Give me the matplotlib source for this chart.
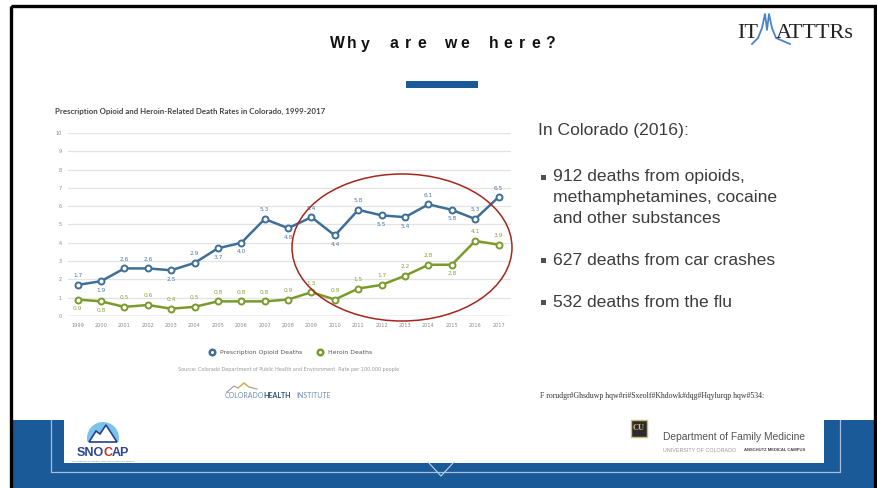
import matplotlib
matplotlib.use("Agg")
import matplotlib.pyplot as plt
from matplotlib.patches import Rectangle, Ellipse, Polygon, Circle
from matplotlib.lines import Line2D

# ---- data ----
years = list(range(1999, 2018))
opioid_rates = [1.7, 1.9, 2.6, 2.6, 2.5, 2.9, 3.7, 4.0, 5.3, 4.8,
                5.4, 4.4, 5.8, 5.5, 5.4, 6.1, 5.8, 5.3, 6.5]
heroin_rates = [0.9, 0.8, 0.5, 0.6, 0.4, 0.5, 0.8, 0.8, 0.8, 0.9,
                1.3, 0.9, 1.5, 1.7, 2.2, 2.8, 2.8, 4.1, 3.9]
y_ticks = list(range(0, 11))

series_names = ["Prescription Opioid Deaths", "Heroin Deaths"]
chart_title = "Prescription Opioid and Heroin-Related Death Rates in Colorado, 1999-2017"
source_note = "Source: Colorado Department of Public Health and Environment. Rate per 100,000 people"

slide_title = "Why are we here?"
intro_line = "In Colorado (2016):"
bullets = [
    ["912 deaths from opioids,", "methamphetamines, cocaine", "and other substances"],
    ["627 deaths from car crashes"],
    ["532 deaths from the flu"],
]
citation = "F rorudgr#Ghsduwp hqw#ri#Sxeolf#Khdowk#dqg#Hqylurqp hqw#534:"

# ---- colours ----
BLUE = "#3f6e96"
GREEN = "#7a9b2c"
SLIDE_BLUE = "#1a5a98"
TEXT = "#3c3c3c"

W, H = 878, 488
fig = plt.figure(figsize=(W / 100, H / 100), dpi=100)
fig.patch.set_facecolor("white")


def fx(px):
    return px / W


def fy(py):
    return 1 - py / H


# background layer in pixel coordinates
bg = fig.add_axes([0, 0, 1, 1])
bg.set_xlim(0, W)
bg.set_ylim(H, 0)
bg.axis("off")

# slide frame
bg.add_patch(Rectangle((11.5, 5.5), 864, 500, fill=False, ec="black", lw=2.4, zorder=5))

# bottom band and logo strip
bg.add_patch(Rectangle((13, 420), 862, 70, fc=SLIDE_BLUE, ec="none", zorder=1))
bg.add_patch(Rectangle((64, 418), 760, 45, fc="white", ec="none", zorder=2))
bg.plot([51, 51, 840, 840], [420, 472, 472, 420], color="#a9bedb", lw=0.9, zorder=3)
bg.plot([428, 441, 454], [462, 476, 462], color="#c4d2e6", lw=0.8, zorder=3)

# title and accent bar
for i, ch in enumerate(slide_title):
    bg.text(337 + i * 14.2, 44, ch, ha="center", va="center", fontsize=11.3,
            fontweight="bold", color="#111111", family="Liberation Sans")
bg.add_patch(Rectangle((406, 81), 72, 7, fc=SLIDE_BLUE, ec="none"))

# IT MATTTRs logo
bg.text(737, 38, "IT", fontsize=16, family="Liberation Serif", color="#222222", va="baseline")
bg.plot([752, 758, 762, 765, 767, 769, 772, 776, 790],
        [44, 38, 28, 14, 30, 14, 28, 38, 44], color="#4a84c6", lw=1.3)
bg.text(776, 38, "ATTTRs", fontsize=16, family="Liberation Serif", color="#222222", va="baseline")

# right-hand text
bg.text(538, 131, intro_line, fontsize=12.6, color=TEXT, va="center", family="Liberation Sans")
y = 177
for group in bullets:
    bg.add_patch(Rectangle((541.5, y - 2.5), 5, 5, fc="#505050", ec="none"))
    for line in group:
        bg.text(553, y, line, fontsize=12.6, color=TEXT, va="center", family="Liberation Sans")
        y += 20.7
    y += 21.5
bg.text(540, 396, citation, fontsize=5.6, family="Liberation Serif", color="#333333", va="center")

# SNOCAP logo
sky = Circle((103, 438), 16, fc="#7cc3ec", ec="none", zorder=3)
bg.add_patch(sky)
sky.set_clip_path(Rectangle((80, 410), 50, 32, transform=bg.transData))
bg.add_patch(Polygon([[89, 442], [96, 431], [100, 434], [106, 425], [117, 442]],
                     closed=True, fc="white", ec="#27408b", lw=1.2, zorder=4))
bg.text(103.5, 453, "SNO", ha="right", va="center", fontsize=9, fontweight="bold",
        color="#2a4790", family="Liberation Sans", zorder=4)
bg.text(107.6, 453, "C", ha="center", va="center", fontsize=9, fontweight="bold",
        color="#c8302a", family="Liberation Sans", zorder=4)
bg.text(111.8, 453, "AP", ha="left", va="center", fontsize=9, fontweight="bold",
        color="#2a4790", family="Liberation Sans", zorder=4)
bg.text(103, 461, "State Network of Colorado Ambulatory Practices & Partners",
        ha="center", va="center", fontsize=1.5, color="#666666", zorder=4)

# CU department logo
bg.add_patch(Rectangle((631, 420), 16, 17, fc="#2b2b2b", ec="#cfb87c", lw=1, zorder=4))
bg.text(639, 428.5, "CU", ha="center", va="center", fontsize=6, fontweight="bold",
        color="#cfb87c", family="Liberation Serif", zorder=5)
bg.text(663, 437, "Department of Family Medicine", fontsize=7.4, color="#555555",
        va="center", family="Liberation Sans", zorder=4)
bg.text(663, 450, "UNIVERSITY OF COLORADO", fontsize=3.9, color="#999999",
        va="center", family="Liberation Sans", zorder=4)
bg.text(744, 450, "ANSCHUTZ MEDICAL CAMPUS", fontsize=3.0, color="#444444",
        va="center", fontweight="bold", family="Liberation Sans", zorder=4)

# embedded chart header / footer
bg.text(55, 111, chart_title, fontsize=5.7, fontweight="bold", color="#454545",
        va="center", family="Lato")
bg.text(289, 370, source_note, fontsize=3.5, color="#999999", ha="center", va="center")
bg.plot([227, 234, 238, 244, 249, 257], [392, 386, 388, 383, 387, 389], color="#9a9a9a", lw=0.8)
bg.plot([238, 244, 249], [388, 383, 387], color="#d8b440", lw=0.8)
bg.text(225, 396, "COLORADO", fontsize=5, color="#6f8fb0", va="center", family="Lato")
bg.text(263, 396, "HEALTH", fontsize=5, color="#2f4f6f", va="center",
        fontweight="bold", family="Lato")
bg.text(296, 396, "INSTITUTE", fontsize=5, color="#6f8fb0", va="center", family="Lato")

# ---- the line chart ----
ax = fig.add_axes([fx(68), fy(316), fx(511) - fx(68), fy(133) - fy(316)])
ax.set_xlim(1998.59, 2017.53)
ax.set_ylim(0, 10)
ax.set_facecolor("none")
for s in ax.spines.values():
    s.set_visible(False)
ax.set_yticks(y_ticks)
ax.set_xticks(years)
ax.set_xticklabels([str(yr) for yr in years])
ax.tick_params(length=0, labelsize=3.6, colors="#8a8a8a")
ax.tick_params(axis="y", pad=4.5)
ax.tick_params(axis="x", pad=5)
ax.yaxis.grid(True, color="#e3e3e3", lw=0.9)
ax.axhline(0, color="#d2d2d2", lw=1.0)
ax.set_axisbelow(True)

ax.plot(years, opioid_rates, color=BLUE, lw=1.8, marker="o", ms=4.3,
        mfc="white", mec=BLUE, mew=1.4, clip_on=False, zorder=3)
ax.plot(years, heroin_rates, color=GREEN, lw=1.8, marker="o", ms=4.3,
        mfc="white", mec=GREEN, mew=1.4, clip_on=False, zorder=3)

# label above (+1) or below (-1) each point, as on the slide
opioid_side = [1, -1, 1, 1, -1, 1, -1, -1, 1, -1, 1, -1, 1, -1, -1, 1, -1, 1, 1]
heroin_side = [-1, -1, 1, 1, 1, 1, 1, 1, 1, 1, 1, 1, 1, 1, 1, 1, -1, 1, 1]
for vals, sides, col in [(opioid_rates, opioid_side, "#4e7aa2"),
                         (heroin_rates, heroin_side, "#85a53a")]:
    for yr, v, s in zip(years, vals, sides):
        ax.annotate(f"{v:.1f}", (yr, v), xytext=(0, 6.5 * s), textcoords="offset points",
                    ha="center", va="center", fontsize=4.2, color=col)

handles = [Line2D([], [], ls="none", marker="o", ms=4, mfc="white", mec=c, mew=1.8)
           for c in (BLUE, GREEN)]
fig.legend(handles, series_names, loc="center", bbox_to_anchor=(fx(289), fy(352)),
           ncol=2, frameon=False, fontsize=4.4, handletextpad=0.3, columnspacing=2.0,
           labelcolor="#555555")

# red circle drawn over the chart
top = fig.add_axes([0, 0, 1, 1], zorder=10)
top.set_xlim(0, W)
top.set_ylim(H, 0)
top.axis("off")
top.patch.set_alpha(0)
top.add_patch(Ellipse((402, 247.5), 220, 147, fill=False, ec="#a3271c", lw=1.1))

fig.savefig("out.png", dpi=100, facecolor="white")
